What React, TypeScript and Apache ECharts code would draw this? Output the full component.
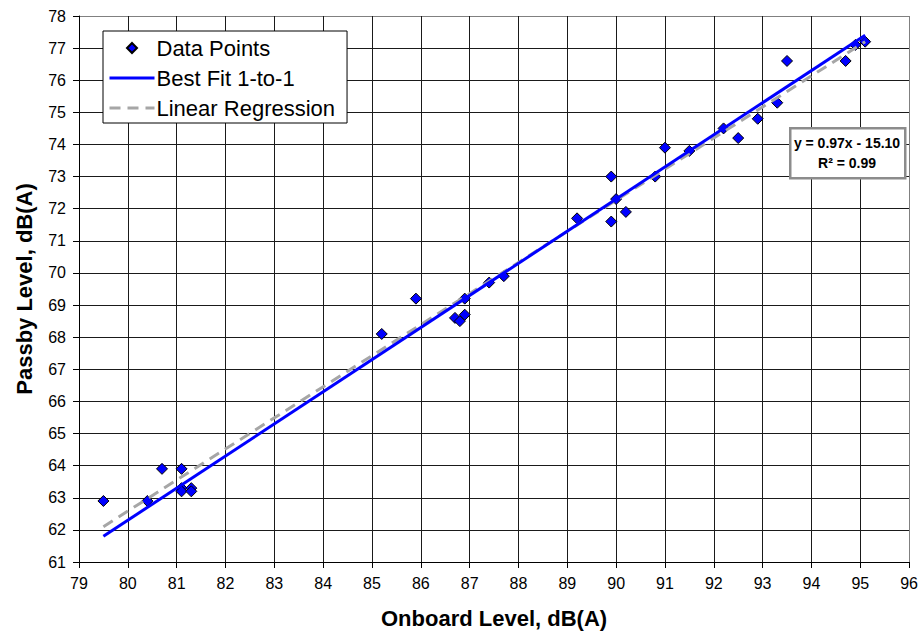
import React, { useEffect, useRef } from "react";
import * as echarts from "echarts";

const onboardLevels = [
  79.5, 80.4, 80.7, 81.1, 81.1, 81.1, 81.3, 81.3, 85.2, 85.9, 86.7, 86.8, 86.9, 86.9, 87.4, 87.7,
  89.2, 89.9, 89.9, 90.0, 90.2, 90.8, 91.0, 91.5, 92.2, 92.5, 92.9, 93.3, 93.5, 94.7, 94.9, 95.1,
];
const passbyLevels = [
  62.9, 62.9, 63.9, 63.9, 63.3, 63.2, 63.3, 63.2, 68.1, 69.2, 68.6, 68.5, 68.7, 69.2, 69.7, 69.9,
  71.7, 71.6, 73.0, 72.3, 71.9, 73.0, 73.9, 73.8, 74.5, 74.2, 74.8, 75.3, 76.6, 76.6, 77.1, 77.2,
];
const bestFitX = [79.5, 95.1];
const bestFitY = [61.8, 77.4];
const regressionX = [79.5, 95.1];
const regressionY = [62.1, 77.2];
const seriesNames = ["Data Points", "Best Fit 1-to-1", "Linear Regression"];
const equationLines = ["y = 0.97x - 15.10", "R² = 0.99"];
const xTitle = "Onboard Level, dB(A)";
const yTitle = "Passby Level, dB(A)";

const FONT = 'Arial, "Liberation Sans", sans-serif';

export default function App() {
  const ref = useRef<HTMLDivElement>(null);
  useEffect(() => {
    if (!ref.current) return;
    const chart = echarts.init(ref.current, undefined, { renderer: "svg" });
    const xGridColors = Array.from({ length: 18 }, (_, i) => (i === 17 ? "#808080" : "#1a1a1a"));
    const yGridColors = Array.from({ length: 18 }, (_, i) => (i === 17 ? "#808080" : "#1a1a1a"));
    const option: any = {
      animation: false,
      backgroundColor: "#ffffff",
      textStyle: { fontFamily: FONT },
      grid: { left: 79, right: 9, top: 16, bottom: 71, show: false },
      xAxis: {
        type: "value",
        min: 79,
        max: 96,
        interval: 1,
        name: xTitle,
        nameLocation: "middle",
        nameGap: 45,
        nameTextStyle: { fontFamily: FONT, fontSize: 22, fontWeight: "bold", color: "#000" },
        axisLine: { show: true, lineStyle: { color: "#000", width: 1 } },
        axisTick: { show: true, length: 6, lineStyle: { color: "#000" } },
        axisLabel: { margin: 13, fontFamily: FONT, fontSize: 16, color: "#000" },
        splitLine: { show: true, lineStyle: { color: xGridColors, width: 1 } },
      },
      yAxis: {
        type: "value",
        min: 61,
        max: 78,
        interval: 1,
        name: yTitle,
        nameLocation: "middle",
        nameGap: 44,
        nameTextStyle: { fontFamily: FONT, fontSize: 22, fontWeight: "bold", color: "#000" },
        axisLine: { show: true, lineStyle: { color: "#000", width: 1 } },
        axisTick: { show: true, length: 6, lineStyle: { color: "#000" } },
        axisLabel: { margin: 13, fontFamily: FONT, fontSize: 16, color: "#000" },
        splitLine: { show: true, lineStyle: { color: yGridColors, width: 1 } },
      },
      legend: {
        orient: "vertical",
        left: 103,
        top: 31,
        data: [
          { name: seriesNames[0], icon: "path://M5,0 L10,5 L5,10 L0,5 Z" },
          { name: seriesNames[1], icon: "inherit", itemStyle: { opacity: 0 }, lineStyle: { width: 3 } },
          { name: seriesNames[2], icon: "inherit", itemStyle: { opacity: 0 }, lineStyle: { width: 3 } },
        ],
        symbolKeepAspect: true,
        backgroundColor: "#ffffff",
        borderColor: "#000",
        borderWidth: 1,
        padding: [6, 12, 4, 5],
        itemGap: 8,
        itemWidth: 45,
        itemHeight: 10,
        textStyle: { fontFamily: FONT, fontSize: 22, color: "#000", padding: [0, 0, 0, -3] },
      },
      series: [
        {
          name: seriesNames[0],
          type: "scatter",
          symbol: "diamond",
          symbolSize: 11,
          itemStyle: { color: "#0000ff", borderColor: "#000", borderWidth: 1, opacity: 1 },
          data: onboardLevels.map((x, i) => [x, passbyLevels[i]]),
          z: 2,
        },
        {
          name: seriesNames[2],
          type: "line",
          showSymbol: false,
          symbol: "none",
          lineStyle: { color: "#a6a6a6", width: 3, type: [11, 7] },
          itemStyle: { color: "#a6a6a6" },
          data: regressionX.map((x, i) => [x, regressionY[i]]),
          z: 3,
        },
        {
          name: seriesNames[1],
          type: "line",
          showSymbol: false,
          symbol: "none",
          lineStyle: { color: "#0000ff", width: 3 },
          itemStyle: { color: "#0000ff" },
          data: bestFitX.map((x, i) => [x, bestFitY[i]]),
          z: 4,
        },
      ],
      graphic: [
        {
          type: "rect",
          left: 789,
          top: 127,
          z: 100,
          shape: { x: 0, y: 0, width: 115, height: 50 },
          style: { fill: "#ffffff", stroke: "#8c8c8c", lineWidth: 2.5 },
        },
        {
          type: "text",
          x: 847,
          y: 143,
          z: 101,
          style: {
            text: equationLines[0],
            font: `bold 14px ${FONT}`,
            fill: "#000",
            align: "center",
            verticalAlign: "middle",
          },
        },
        {
          type: "text",
          x: 847,
          y: 163,
          z: 101,
          style: {
            text: equationLines[1],
            font: `bold 14px ${FONT}`,
            fill: "#000",
            align: "center",
            verticalAlign: "middle",
          },
        },
      ],
    };
    chart.setOption(option);
    return () => chart.dispose();
  }, []);
  return (
    <div
      ref={ref}
      style={{ position: "fixed", left: 0, top: 0, width: 921, height: 634, background: "#fff" }}
    />
  );
}
